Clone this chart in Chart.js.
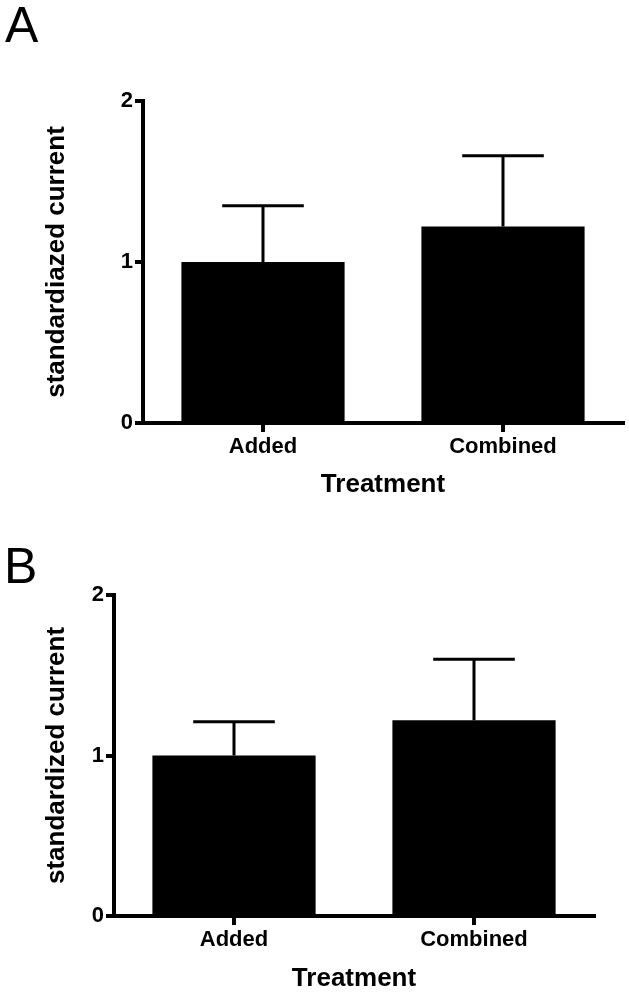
<!DOCTYPE html>
<html>
<head>
<meta charset="utf-8">
<script src="https://cdn.jsdelivr.net/npm/chart.js@4.4.1/dist/chart.umd.min.js"></script>
<style>
  html, body { margin: 0; padding: 0; background: #fff; }
  body { width: 629px; height: 994px; position: relative; overflow: hidden; }
  .panel-label { position: absolute; font-family: "Liberation Sans", Arial, sans-serif; font-size: 50px; line-height: 1; color: #000; }
  canvas { position: absolute; left: 0; }
</style>
</head>
<body>
<div class="panel-label" style="left:5px; top:0px;">A</div>
<div class="panel-label" style="left:4px; top:541px;">B</div>
<canvas id="chartA" style="top:0px;" width="629" height="500"></canvas>
<canvas id="chartB" style="top:500px;" width="629" height="494"></canvas>
<script>
// 数据
const categories = ["Added", "Combined"];
const yTicks = [0, 1, 2];
const meanA = [1.0, 1.22];
const errA = [0.35, 0.44];
const meanB = [1.0, 1.22];
const errB = [0.21, 0.38];

const FONT = "'Liberation Sans', Arial, sans-serif";

// 误差线插件（只画上半部分）
const errorBarPlugin = {
  id: 'errorBars',
  afterDatasetsDraw(chart) {
    const errs = chart.options.plugins.errorBars.errors;
    const meta = chart.getDatasetMeta(0);
    const y = chart.scales.y;
    const ctx = chart.ctx;
    ctx.save();
    ctx.strokeStyle = '#000';
    ctx.lineWidth = 3;
    meta.data.forEach((bar, i) => {
      const top = y.getPixelForValue(chart.data.datasets[0].data[i] + errs[i]);
      const half = bar.width / 4;
      ctx.beginPath();
      ctx.moveTo(bar.x, bar.y);
      ctx.lineTo(bar.x, top);
      ctx.moveTo(bar.x - half, top);
      ctx.lineTo(bar.x + half, top);
      ctx.stroke();
    });
    ctx.restore();
  }
};

function makeChart(id, means, errs, yTitle, cfg) {
  return new Chart(document.getElementById(id), {
    type: 'bar',
    data: {
      labels: categories,
      datasets: [{
        data: means,
        backgroundColor: '#000',
        borderWidth: 0,
        barPercentage: 0.68,
        categoryPercentage: 1.0
      }]
    },
    options: {
      responsive: false,
      animation: false,
      layout: { padding: { top: cfg.top, right: cfg.right, left: 0, bottom: 0 } },
      plugins: {
        legend: { display: false },
        tooltip: { enabled: false },
        errorBars: { errors: errs }
      },
      scales: {
        x: {
          offset: true,
          afterFit: s => { s.height = cfg.xHeight; },
          grid: { offset: false, drawOnChartArea: false, drawTicks: true, tickLength: 9, color: '#000', lineWidth: 4 },
          border: { display: true, color: '#000', width: 4 },
          ticks: { color: '#000', padding: 2, font: { family: FONT, size: 22, weight: 'bold' } },
          title: { display: true, text: 'Treatment', color: '#000', padding: { top: 0, bottom: 0 },
                   font: { family: FONT, size: 26, weight: 'bold' } }
        },
        y: {
          min: 0,
          max: 2,
          afterFit: s => { s.width = cfg.yWidth; },
          afterBuildTicks: s => { s.ticks = yTicks.map(v => ({ value: v })); },
          grid: { drawOnChartArea: false, drawTicks: true, tickLength: 8, color: '#000', lineWidth: 4 },
          border: { display: true, color: '#000', width: 4 },
          ticks: { color: '#000', padding: 2, font: { family: FONT, size: 22, weight: 'bold' } },
          title: { display: true, text: yTitle, color: '#000', padding: { top: 41, bottom: 0 },
                   font: { family: FONT, size: 26, weight: 'bold' } }
        }
      }
    },
    plugins: [errorBarPlugin]
  });
}

makeChart('chartA', meanA, errA, 'standardiazed current', { top: 101, right: 6, xHeight: 77, yWidth: 143 });
makeChart('chartB', meanB, errB, 'standardized current', { top: 95, right: 35, xHeight: 78, yWidth: 114 });
</script>
</body>
</html>
